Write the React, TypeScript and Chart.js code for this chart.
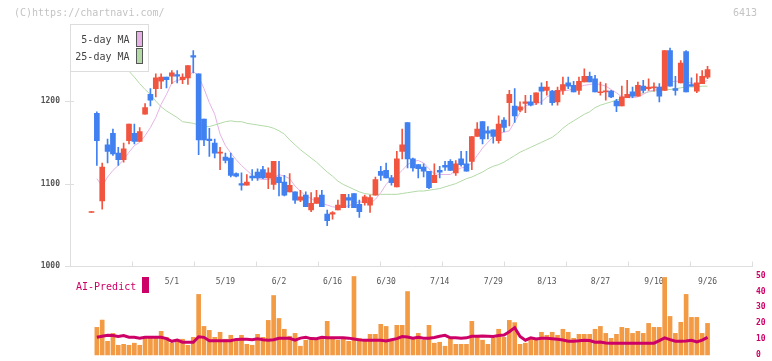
import React, { useEffect, useRef } from 'react';
import { Chart, registerables } from 'chart.js';

Chart.register(...registerables);

// ---- Data ----
const openP = [1065,1185,1079,1147,1161,1137,1129,1152,1161,1151,1184,1208,1215,1224,1229,1230,1232,1226,1228,1255,
  1233,1178,1154,1149,1137,1132,1131,1112,1100,1098,1109,1114,1117,1107,1099,1108,1102,1090,1090,1080,
  1086,1068,1076,1086,1063,1063,1068,1071,1083,1088,1075,1077,1074,1086,1115,1116,1107,1096,1139,1174,
  1130,1123,1120,1115,1101,1116,1122,1127,1113,1130,1124,1127,1157,1175,1164,1165,1152,1177,1198,1194,
  1189,1197,1199,1198,1217,1213,1212,1199,1213,1222,1219,1213,1223,1230,1227,1210,1211,1212,1200,1194,
  1204,1211,1206,1218,1215,1216,1217,1213,1261,1215,1222,1260,1220,1212,1221,1229];
const highP = [1065,1187,1125,1154,1166,1144,1149,1172,1172,1168,1197,1215,1233,1233,1229,1237,1237,1233,1243,1261,
  1233,1178,1167,1154,1144,1137,1137,1113,1113,1111,1117,1118,1121,1119,1127,1127,1110,1112,1090,1092,
  1090,1089,1092,1092,1068,1066,1080,1087,1087,1088,1080,1086,1086,1108,1121,1125,1110,1139,1166,1174,
  1131,1123,1124,1115,1124,1121,1127,1129,1128,1139,1139,1157,1174,1175,1169,1165,1182,1180,1213,1215,
  1199,1207,1207,1210,1222,1224,1213,1217,1229,1229,1224,1229,1239,1235,1231,1223,1221,1213,1202,1218,
  1225,1217,1223,1225,1227,1222,1221,1261,1264,1230,1249,1261,1228,1233,1237,1242];
const lowP = [1065,1122,1069,1125,1134,1122,1126,1148,1148,1151,1184,1194,1205,1215,1216,1221,1222,1221,1220,1234,
  1135,1146,1133,1131,1117,1125,1108,1108,1092,1098,1104,1104,1106,1094,1093,1085,1085,1090,1076,1078,
  1072,1066,1076,1072,1049,1057,1068,1071,1071,1071,1059,1074,1065,1086,1104,1107,1098,1096,1130,1119,
  1115,1107,1108,1094,1101,1107,1116,1116,1110,1121,1115,1117,1157,1148,1154,1149,1149,1163,1170,1174,
  1187,1186,1194,1196,1196,1207,1195,1195,1208,1215,1211,1208,1223,1223,1211,1207,1201,1204,1187,1194,
  1204,1204,1206,1210,1213,1212,1199,1213,1218,1207,1222,1211,1218,1210,1221,1227];
const closeP = [1065,1152,1120,1139,1136,1129,1142,1172,1151,1163,1192,1201,1228,1229,1226,1234,1230,1229,1243,1253,
  1153,1153,1152,1137,1138,1128,1110,1109,1098,1102,1107,1107,1107,1113,1127,1101,1086,1098,1080,1084,
  1072,1076,1083,1072,1055,1065,1074,1087,1080,1071,1066,1084,1083,1105,1110,1107,1101,1130,1147,1130,
  1119,1118,1115,1095,1110,1114,1120,1116,1124,1123,1115,1157,1166,1154,1161,1157,1172,1168,1208,1182,
  1193,1199,1195,1210,1212,1217,1198,1213,1220,1218,1211,1224,1230,1223,1211,1211,1212,1205,1194,1205,
  1208,1206,1219,1213,1217,1217,1206,1261,1218,1213,1246,1211,1218,1222,1230,1238];

const ma5 = [null,1106,1097,1108,1116,1122,1129,1138,1146,1150,1158,1168,1180,1196,1208,1222,1225,1226,1229,1236,
  1230,1215,1198,1184,1160,1146,1137,1129,1122,1116,1110,1106,1105,1105,1107,1111,1109,1106,1097,1091,
  1085,1082,1078,1076,1074,1072,1071,1072,1073,1076,1078,1077,1076,1081,1089,1099,1106,1110,1116,1123,
  1127,1128,1125,1118,1112,1111,1111,1111,1116,1119,1120,1125,1134,1143,1150,1157,1161,1162,1164,1175,
  1186,1194,1197,1196,1199,1205,1208,1211,1212,1213,1215,1217,1219,1220,1221,1220,1218,1214,1210,1205,
  1204,1204,1205,1208,1212,1213,1215,1220,1223,1224,1224,1223,1222,1220,1222,1225];
const ma25 = [1282,1276,1270,1263,1256,1249,1242,1236,1229,1221,1214,1208,1200,1193,1188,1184,1180,1175,1174,1173,
  1171,1169,1169,1171,1173,1175,1176,1175,1175,1173,1172,1171,1170,1169,1167,1164,1160,1153,1147,1141,
  1136,1131,1126,1120,1114,1109,1103,1099,1096,1093,1090,1088,1087,1087,1087,1087,1087,1087,1088,1089,
  1090,1091,1091,1092,1093,1094,1096,1098,1100,1103,1106,1108,1111,1114,1118,1121,1123,1126,1130,1134,
  1138,1141,1144,1147,1150,1153,1156,1161,1167,1172,1176,1180,1184,1187,1192,1195,1197,1199,1201,1203,
  1205,1206,1208,1209,1211,1212,1213,1214,1214,1215,1216,1217,1217,1217,1218,1218];

const volume = [null,17.4,22,8.6,13.6,6.1,6.7,6.1,7.4,6.1,11.1,11.1,11.1,14.9,11.1,7.4,9.9,9.9,6.1,11.1,
  38.2,18,15.5,11.1,14.3,9.9,12.4,9.9,12.4,6.7,6.1,13,11.1,21.8,37.5,23,16.2,11.8,13.6,5.5,
  9.3,9.9,9.3,10.5,21.2,11.1,9.3,9.9,8.6,49.5,10.5,8.6,13,13,19.3,18,9.9,18.7,18.7,40,
  10.5,13.6,9.3,18.7,7.4,8,5.5,11.1,6.7,6.7,6.7,21.2,11.1,9.3,6.7,10.5,16.2,11.1,21.8,20.4,
  6.7,7.4,9.9,9.3,14.3,12.4,14.3,12.4,16.2,14.3,10.5,13,13,13,16.2,18,13.6,10.5,13,17.4,
  16.8,13.6,14.9,13.6,19.9,17.4,17.4,48.9,24.3,13.6,20.6,38.2,23.7,23.7,13.6,19.9];

const aiPredict = [null,11.1,11.8,12.4,12.2,11.6,12.2,11.2,11.1,10.6,11.1,11.1,11.1,11.1,10.3,8.6,9.4,8,8,8,
  11.5,11.1,9,9,9,9,9,9.8,9.9,9.9,9.6,10.2,9.6,9.3,9.6,10.5,10.5,10.5,9.3,10.6,
  11.1,10.3,10.2,11.1,10.8,10.8,10.8,10.8,10.6,10.1,9.5,9.3,9.3,9.3,9.3,8.8,9.6,10.3,11.6,11.3,
  10.6,11.1,10.6,10.5,11,11.8,12.4,10.8,10.8,10.5,10.8,11.8,11.8,11.9,11.8,11.7,12.2,12.6,14.6,17.2,
  11.6,9.3,10.8,10.1,10.5,10.5,10.2,9.9,9.4,8.6,8.6,8.9,9.3,9.1,8,8.2,7.6,7.4,7.4,7.4,
  7.4,7.4,7.4,7.4,7.4,7.4,9,10.8,9.7,8.6,8.6,8.8,9.2,8.2,9.3,11.1];

const dateTickIndex = [15,25,35,45,55,65,75,85,95,105,115];
const dateTickLabels = ['5/1','5/19','6/2','6/16','6/30','7/14','7/29','8/13','8/27','9/10','9/26'];
const priceTicks = [1000,1100,1200];
const aiTicks = [0,10,20,30,40,50];

const RED = '#f1553f';
const BLUE = '#4080f0';
const MA5_COLOR = '#e6b2e6';
const MA25_COLOR = '#b2d9a6';
const AI_COLOR = '#cc0066';
const VOL_COLOR = '#f29a44';
const MONO = '"DejaVu Sans Mono", monospace';

const overlay = {
  id: 'overlay',
  beforeDatasetsDraw(chart: any) {
    const { ctx, chartArea: a, scales } = chart;
    const yP = scales.yP;
    const yBase = Math.round(yP.getPixelForValue(1000)) + 0.5;
    ctx.save();
    ctx.strokeStyle = '#dedede';
    ctx.lineWidth = 1;
    ctx.beginPath();
    const xl = Math.round(a.left) + 0.5;
    ctx.moveTo(xl, a.top);
    ctx.lineTo(xl, yBase);
    ctx.moveTo(a.left, yBase);
    ctx.lineTo(a.right + 1, yBase);
    for (let k = 0; k <= 11; k++) {
      const x = Math.round(a.left + (k * (a.right - a.left)) / 11) + 0.5;
      ctx.moveTo(x, yBase - 5);
      ctx.lineTo(x, yBase);
    }
    for (const v of priceTicks) {
      const y = Math.round(yP.getPixelForValue(v)) + 0.5;
      ctx.moveTo(a.left - 5, y);
      ctx.lineTo(a.left + 4, y);
    }
    ctx.stroke();
    ctx.fillStyle = '#555';
    ctx.font = '8px ' + MONO;
    ctx.textAlign = 'center';
    ctx.textBaseline = 'middle';
    dateTickIndex.forEach((ix, j) => {
      ctx.fillText(dateTickLabels[j], scales.x.getPixelForValue(ix), yBase + 15);
    });
    ctx.restore();
  },
  afterDraw(chart: any) {
    const { ctx, chartArea: a } = chart;
    ctx.save();
    const lx = Math.round(a.left) + 0.5;
    const ly = Math.round(a.top) + 0.5;
    ctx.fillStyle = '#ffffff';
    ctx.fillRect(lx, ly, 78, 47);
    ctx.strokeStyle = '#dddddd';
    ctx.lineWidth = 1;
    ctx.strokeRect(lx, ly, 78, 47);
    ctx.font = '10px ' + MONO;
    ctx.textAlign = 'right';
    ctx.textBaseline = 'middle';
    const ds = chart.data.datasets;
    const items = [ds[3], ds[4]];
    items.forEach((d: any, k: number) => {
      const cy = ly + 16 + k * 17;
      ctx.fillStyle = '#444';
      ctx.fillText(d.label, lx + 59, cy);
      ctx.fillStyle = d.borderColor;
      ctx.fillRect(lx + 66, cy - 9, 6, 15);
      ctx.strokeStyle = '#555';
      ctx.strokeRect(lx + 66, cy - 9, 6, 15);
    });
    ctx.fillStyle = '#c4c4c4';
    ctx.textAlign = 'left';
    ctx.fillText('(C)https://chartnavi.com/', 14, 13);
    ctx.textAlign = 'right';
    ctx.fillText('6413', 757, 13);
    ctx.textAlign = 'left';
    ctx.fillStyle = AI_COLOR;
    ctx.fillText('AI-Predict', 76, 287);
    ctx.fillRect(142, 277, 7, 16);
    ctx.restore();
  },
};

export default function App() {
  const ref = useRef<HTMLCanvasElement>(null);
  useEffect(() => {
    const canvas = ref.current;
    if (!canvas) return;
    const idx = openP.map((_, i) => i);
    const colors = idx.map((i) => (closeP[i] >= openP[i] ? RED : BLUE));
    const chart = new Chart(canvas, {
      type: 'bar',
      data: {
        datasets: [
          {
            type: 'line',
            label: 'AI-Predict',
            data: idx.map((i) => ({ x: i, y: aiPredict[i] })),
            yAxisID: 'yAI',
            borderColor: AI_COLOR,
            borderWidth: 3,
            pointRadius: 0,
            tension: 0,
            order: 0,
          } as any,
          {
            type: 'bar',
            label: 'Body',
            data: idx.map((i) => ({ x: i, y: [openP[i], closeP[i]] })),
            yAxisID: 'yP',
            backgroundColor: colors,
            barThickness: 5,
            minBarLength: 1,
            grouped: false,
            order: 1,
          } as any,
          {
            type: 'bar',
            label: 'Wick',
            data: idx.map((i) => ({ x: i, y: [lowP[i], highP[i]] })),
            yAxisID: 'yP',
            backgroundColor: colors,
            barThickness: 1,
            minBarLength: 1,
            grouped: false,
            order: 2,
          } as any,
          {
            type: 'line',
            label: '5-day MA',
            data: idx.map((i) => ({ x: i, y: ma5[i] })),
            yAxisID: 'yP',
            borderColor: MA5_COLOR,
            borderWidth: 1,
            pointRadius: 0,
            tension: 0,
            order: 3,
          } as any,
          {
            type: 'line',
            label: '25-day MA',
            data: idx.map((i) => ({ x: i, y: ma25[i] })),
            yAxisID: 'yP',
            borderColor: MA25_COLOR,
            borderWidth: 1,
            pointRadius: 0,
            tension: 0,
            order: 4,
          } as any,
          {
            type: 'bar',
            label: 'Volume',
            data: idx.map((i) => ({ x: i, y: volume[i] })),
            yAxisID: 'yVol',
            backgroundColor: VOL_COLOR,
            barThickness: 4,
            base: 0,
            grouped: false,
            clip: false,
            order: 5,
          } as any,
        ],
      },
      options: {
        responsive: false,
        animation: false,
        devicePixelRatio: 1,
        events: [],
        layout: { padding: { top: 24, bottom: 12, left: 0, right: 0 } },
        plugins: { legend: { display: false }, tooltip: { enabled: false } },
        scales: {
          x: { type: 'linear', min: -4.013, max: 123.3, display: false, offset: false },
          yP: {
            type: 'linear',
            position: 'left',
            min: 903.12,
            max: 1293.28,
            afterBuildTicks: (s: any) => {
              s.ticks = priceTicks.map((v) => ({ value: v }));
            },
            afterFit: (s: any) => {
              s.width = 70;
            },
            grid: { drawOnChartArea: false, drawTicks: false },
            border: { display: false },
            ticks: {
              autoSkip: false,
              padding: 10,
              color: '#555',
              font: { family: MONO, size: 8, weight: 'bold' },
              callback: (v: any) => String(v),
            },
          },
          yAI: {
            type: 'linear',
            position: 'right',
            min: 5.507,
            max: 208.89,
            afterBuildTicks: (s: any) => {
              s.ticks = aiTicks.map((v) => ({ value: v }));
            },
            afterFit: (s: any) => {
              s.width = 20;
            },
            grid: { drawOnChartArea: false, drawTicks: false },
            border: { display: false },
            ticks: {
              autoSkip: false,
              padding: 4,
              color: AI_COLOR,
              font: { family: MONO, size: 8, weight: 'bold' },
              callback: (v: any) => String(v),
            },
          },
          yVol: { type: 'linear', display: false, min: 5.507, max: 208.89 },
        },
      } as any,
      plugins: [overlay],
    });
    return () => chart.destroy();
  }, []);
  return (
    <div style={{ position: 'absolute', left: 0, top: 0, width: 772, height: 361, background: '#fff' }}>
      <canvas ref={ref} width={772} height={361} style={{ display: 'block', width: 772, height: 361 }} />
    </div>
  );
}
